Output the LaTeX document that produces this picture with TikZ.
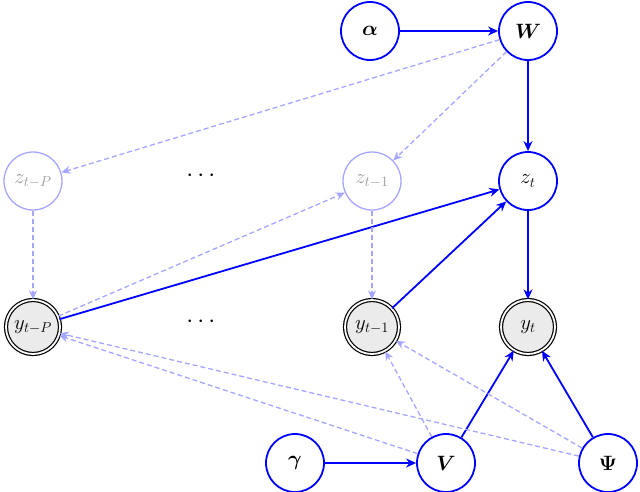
\documentclass[tikz,border=0pt]{standalone}
\usepackage{amsmath,bm}
\usetikzlibrary{arrows.meta}
\begin{document}
\begin{tikzpicture}[x=1pt,y=-1pt,
  var/.style={circle,draw=blue,line width=1.8pt,minimum size=58pt,inner sep=0pt,font=\fontsize{21}{24}\selectfont},
  lat/.style={circle,draw=blue!35,line width=1.3pt,minimum size=58pt,inner sep=0pt,text=black!40,font=\fontsize{21}{24}\selectfont},
  obs/.style={circle,draw=black,fill=black!8,double,double distance=1.8pt,line width=1.2pt,minimum size=54pt,inner sep=0pt,font=\fontsize{21}{24}\selectfont},
  sol/.style={draw=blue,line width=1.8pt,-{Stealth[length=10pt,width=9pt]}},
  dsh/.style={draw=blue!35,line width=1.3pt,dash pattern=on 5pt off 3pt,-{Stealth[length=9pt,width=8pt]}}]
\useasboundingbox (0,0) rectangle (640,491);
\node[var] (a) at (370,31) {$\bm\alpha$};
\node[var] (W) at (528,31) {$\bm W$};
\node[lat] (zP) at (33,181) {$z_{t-P}$};
\node[lat] (z1) at (372,181) {$z_{t-1}$};
\node[var] (zt) at (528,181) {$z_t$};
\node[obs] (yP) at (33,327) {$y_{t-P}$};
\node[obs] (y1) at (372,327) {$y_{t-1}$};
\node[obs] (yt) at (528,327) {$y_t$};
\node[var] (g) at (295,463) {$\bm\gamma$};
\node[var] (V) at (446,463) {$\bm V$};
\node[var] (P) at (608,463) {$\bm\Psi$};
\node[font=\fontsize{40}{40}\selectfont] (d1) at (203,176) {$\cdots$};
\node[font=\fontsize{40}{40}\selectfont] (d2) at (203,322) {$\cdots$};
\draw[sol] (a)--(W);
\draw[sol] (W)--(zt);
\draw[sol] (zt)--(yt);
\draw[sol] (yP)--(zt);
\draw[sol] (y1)--(zt);
\draw[sol] (g)--(V);
\draw[sol] (V)--(yt);
\draw[sol] (P)--(yt);
\draw[dsh] (W)--(zP);
\draw[dsh] (W)--(z1);
\draw[dsh] (zP)--(yP);
\draw[dsh] (z1)--(y1);
\draw[dsh] (yP)--(z1);
\draw[dsh] (V)--(yP);
\draw[dsh] (V)--(y1);
\draw[dsh] (P)--(yP);
\draw[dsh] (P)--(y1);
\end{tikzpicture}
\end{document}
